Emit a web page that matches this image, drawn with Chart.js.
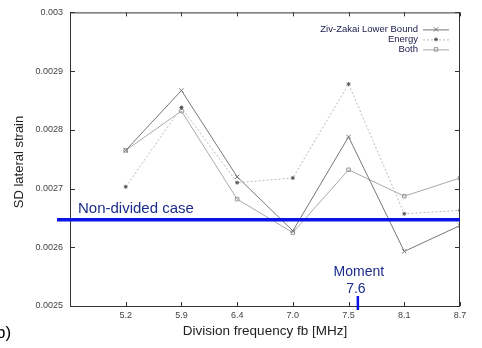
<!DOCTYPE html>
<html><head><meta charset="utf-8">
<script src="https://cdn.jsdelivr.net/npm/chart.js@4/dist/chart.umd.min.js"></script>
<style>html,body{margin:0;padding:0;background:#fff}#w{width:482px;height:348px;position:relative}</style>
</head><body><div id="w"><canvas id="c"></canvas></div>
<script>
const categories = ['5.2','5.9','6.4','7.0','7.5','8.1','8.7'];
const zivZakai = [0.002765, 0.002867, 0.00272, 0.002628, 0.002788, 0.002593, 0.002637];
const energy   = [0.002703, 0.002838, 0.00271, 0.002718, 0.002878, 0.002657, 0.002663];
const both     = [0.002765, 0.002832, 0.002682, 0.002625, 0.002732, 0.002687, 0.002718];
const yTicks = [0.0025, 0.0026, 0.0027, 0.0028, 0.0029, 0.003];
const nonDividedValue = 0.002647;
const momentValue = 7.6;
const seriesNames = ['Ziv-Zakai Lower Bound', 'Energy', 'Both'];

const toPts = arr => arr.map((v, i) => ({x: i + 1, y: v}));
function freqToIndex(f) {
  const nums = categories.map(Number);
  for (let i = 0; i < nums.length - 1; i++) {
    if (f >= nums[i] && f <= nums[i + 1]) return i + 1 + (f - nums[i]) / (nums[i + 1] - nums[i]);
  }
  return nums.length;
}

const FONT = '"Liberation Sans", Arial, sans-serif';
const styles = [
  {color: '#777', dash: [], pt: 'crossRot', r: 3, mark: '#777', fill: 'rgba(0,0,0,0)'},
  {color: '#bbb', dash: [2, 2], pt: 'star', r: 2, mark: '#555', fill: '#555'},
  {color: '#aaa', dash: [], pt: 'rect', r: 2.5, mark: '#999', fill: 'rgba(0,0,0,0)'}
];

const decor = {
  id: 'decor',
  afterDatasetsDraw(chart) {
    const {ctx, chartArea: a, scales: {x, y}} = chart;
    ctx.save();
    ctx.strokeStyle = '#333'; ctx.lineWidth = 1;
    ctx.strokeRect(a.left + 0.5, a.top + 0.5, a.right - a.left - 1, a.bottom - a.top);
    ctx.beginPath();
    yTicks.forEach(v => {
      const py = Math.round(y.getPixelForValue(v)) + 0.5;
      ctx.moveTo(a.left, py); ctx.lineTo(a.left + 5, py);
      ctx.moveTo(a.right, py); ctx.lineTo(a.right - 5, py);
    });
    categories.forEach((c, i) => {
      const px = Math.round(x.getPixelForValue(i + 1)) + 0.5;
      ctx.moveTo(px, a.bottom); ctx.lineTo(px, a.bottom - 4);
      ctx.moveTo(px, a.top); ctx.lineTo(px, a.top + 4);
    });
    ctx.stroke();
    const ny = y.getPixelForValue(nonDividedValue);
    ctx.strokeStyle = '#0a14e6'; ctx.lineWidth = 3.5;
    ctx.beginPath(); ctx.moveTo(57, ny); ctx.lineTo(a.right, ny); ctx.stroke();
    ctx.fillStyle = '#1c2c8c';
    ctx.font = '15px ' + FONT; ctx.textAlign = 'left'; ctx.textBaseline = 'alphabetic';
    ctx.fillText('Non-divided case', 78, ny - 7);
    const mx = x.getPixelForValue(freqToIndex(momentValue));
    ctx.strokeStyle = '#0a14e6'; ctx.lineWidth = 2.5;
    ctx.beginPath(); ctx.moveTo(mx, a.bottom - 10); ctx.lineTo(mx, a.bottom + 4); ctx.stroke();
    ctx.fillStyle = '#1c2c8c'; ctx.textAlign = 'center';
    ctx.font = '14px ' + FONT;
    ctx.fillText('Moment', mx + 1, a.bottom - 30);
    ctx.fillText(String(momentValue), mx - 2, a.bottom - 13);
    ctx.font = '9.5px ' + FONT; ctx.textBaseline = 'middle';
    seriesNames.forEach((n, i) => {
      const ly = a.top + 17 + i * 10;
      ctx.textAlign = 'right';
      ctx.fillStyle = '#202050';
      ctx.fillText(n, 418, ly);
      const s = styles[i];
      ctx.strokeStyle = s.color; ctx.lineWidth = 1; ctx.setLineDash(s.dash);
      ctx.beginPath(); ctx.moveTo(423, ly + 0.5); ctx.lineTo(449, ly + 0.5); ctx.stroke();
      ctx.setLineDash([]);
      ctx.strokeStyle = s.mark; ctx.fillStyle = s.fill;
      Chart.helpers.drawPoint(ctx, {pointStyle: s.pt, radius: s.r, borderWidth: 1, rotation: 0}, 436, ly);
    });
    ctx.fillStyle = '#222'; ctx.textAlign = 'center'; ctx.textBaseline = 'middle';
    ctx.font = '13.5px ' + FONT;
    ctx.fillText('Division frequency fb [MHz]', (a.left + a.right) / 2, 331);
    ctx.save(); ctx.translate(19, 162); ctx.rotate(-Math.PI / 2);
    ctx.font = '13px ' + FONT; ctx.fillText('SD lateral strain', 0, 0); ctx.restore();
    ctx.fillStyle = '#000'; ctx.font = '17px ' + FONT; ctx.textAlign = 'left';
    ctx.fillText('b)', -4, 333);
    ctx.restore();
  }
};

new Chart(document.getElementById('c'), {
  type: 'line',
  data: {
    datasets: [zivZakai, energy, both].map((d, i) => ({
      label: seriesNames[i],
      data: toPts(d),
      borderColor: styles[i].color,
      backgroundColor: styles[i].fill,
      pointBorderColor: styles[i].mark,
      pointBackgroundColor: styles[i].fill,
      borderWidth: 1,
      borderDash: styles[i].dash,
      pointStyle: styles[i].pt,
      pointRadius: styles[i].r,
      pointBorderWidth: 1,
      tension: 0
    }))
  },
  options: {
    responsive: true, maintainAspectRatio: false, animation: false,
    layout: {padding: {left: 0, right: 22, top: 7, bottom: 0}},
    plugins: {legend: {display: false}, tooltip: {enabled: false}},
    scales: {
      x: {
        type: 'linear', min: 0, max: 7,
        afterBuildTicks: s => { s.ticks = categories.map((c, i) => ({value: i + 1})); },
        afterFit: s => { s.height = 42; },
        grid: {display: false, drawTicks: false}, border: {display: false},
        ticks: {padding: 4, color: '#444', font: {size: 9, family: FONT},
                callback: v => categories[Math.round(v) - 1] || '', maxRotation: 0, autoSkip: false}
      },
      y: {
        min: 0.0025, max: 0.003,
        afterBuildTicks: s => { s.ticks = yTicks.map(v => ({value: v})); },
        afterFit: s => { s.width = 70; },
        grid: {display: false, drawTicks: false}, border: {display: false},
        ticks: {padding: 7, color: '#444', font: {size: 9, family: FONT},
                callback: v => String(parseFloat(v.toFixed(4)))}
      }
    }
  },
  plugins: [decor]
});
</script></body></html>
